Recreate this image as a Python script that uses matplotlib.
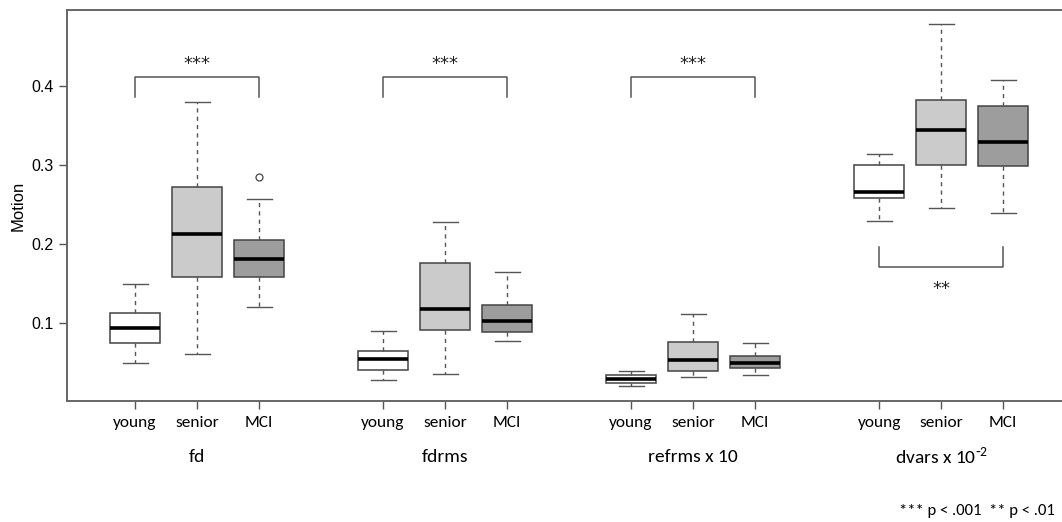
import matplotlib
matplotlib.use("Agg")
import matplotlib.pyplot as plt

# data (Motion, one box per group x metric)
metrics = ["fd", "fdrms", "refrms x 10", r"dvars x 10$^{\mathregular{\text{-}2}}$"]
groups = ["young", "senior", "MCI"]

whislo = [0.050, 0.061, 0.121, 0.028, 0.035, 0.078, 0.020, 0.032, 0.034, 0.230, 0.246, 0.240]
q1 = [0.075, 0.159, 0.159, 0.041, 0.091, 0.089, 0.024, 0.040, 0.043, 0.259, 0.300, 0.299]
med = [0.094, 0.213, 0.181, 0.054, 0.118, 0.103, 0.029, 0.053, 0.049, 0.266, 0.345, 0.329]
q3 = [0.113, 0.272, 0.205, 0.065, 0.176, 0.123, 0.034, 0.076, 0.059, 0.300, 0.383, 0.375]
whishi = [0.150, 0.380, 0.258, 0.090, 0.228, 0.165, 0.039, 0.112, 0.075, 0.315, 0.479, 0.408]
fliers = [[], [], [0.285], [], [], [], [], [], [], [], [], []]

# significance brackets: (metric index, label, above?)
sig = [(0, "***", True), (1, "***", True), (2, "***", True), (3, "**", False)]

colors = ["#ffffff", "#cbcbcb", "#9d9d9d"]
narrow = ["Carlito", "Liberation Sans Narrow", "DejaVu Sans"]


def main():
    plt.rcParams["font.family"] = ["Liberation Sans", "DejaVu Sans"]

    fig = plt.figure(figsize=(10.62, 5.22), dpi=100)
    ax = fig.add_axes([0.063, 0.232, 0.94, 0.749])

    positions = [g * 4 + i + 1 for g in range(len(metrics)) for i in range(len(groups))]
    stats = []
    for k in range(len(positions)):
        stats.append({
            "whislo": whislo[k], "q1": q1[k], "med": med[k],
            "q3": q3[k], "whishi": whishi[k], "fliers": fliers[k],
        })

    bp = ax.bxp(
        stats, positions=positions, widths=0.8, patch_artist=True,
        boxprops=dict(edgecolor="#444444", linewidth=1.1),
        medianprops=dict(color="black", linewidth=2.6, solid_capstyle="butt"),
        whiskerprops=dict(color="#555555", linewidth=1.0, linestyle=(0, (3, 3))),
        capprops=dict(color="#555555", linewidth=1.0),
        flierprops=dict(marker="o", markersize=5, markerfacecolor="white",
                        markeredgecolor="#444444", markeredgewidth=0.9),
        capwidths=0.4,
    )
    for k, patch in enumerate(bp["boxes"]):
        patch.set_facecolor(colors[k % 3])

    # brackets
    for g, label, above in sig:
        x0 = positions[g * 3]
        x1 = positions[g * 3 + 2]
        if above:
            ys = [0.387, 0.412, 0.412, 0.387]
            ty = 0.429
        else:
            ys = [0.197, 0.171, 0.171, 0.197]
            ty = 0.143
        ax.plot([x0, x0, x1, x1], ys, color="#555555", linewidth=1.1)
        ax.text((x0 + x1) / 2, ty, label, ha="center", va="center",
                fontsize=13, color="#222222", family="DejaVu Sans")

    ax.set_xlim(-0.1, 16.0)
    ax.set_ylim(0.0015, 0.497)
    ax.set_yticks([0.1, 0.2, 0.3, 0.4])
    ax.set_yticklabels(["0.1", "0.2", "0.3", "0.4"], fontsize=11.5)
    ax.set_xticks(positions)
    ax.set_xticklabels(groups * len(metrics), fontsize=12.5, family=narrow)
    ax.tick_params(axis="both", direction="out", length=6, width=1.0, color="#555555")
    ax.tick_params(axis="x", pad=5)
    ax.set_ylabel("Motion", fontsize=12)

    for side in ["left", "top", "bottom"]:
        ax.spines[side].set_color("#666666")
        ax.spines[side].set_linewidth(1.4)
    ax.spines["right"].set_visible(False)

    # metric names under each group
    for g, name in enumerate(metrics):
        xc = positions[g * 3 + 1]
        xf = ax.transData.transform((xc, 0))[0] / fig.bbox.width
        fig.text(xf, 1 - 457 / 522, name, ha="center", va="center",
                 fontsize=14, family=narrow)

    fig.text(1055 / 1062, 1 - 511 / 522, "*** p < .001  ** p < .01",
             ha="right", va="center", fontsize=12, family=narrow)

    fig.savefig("out.png", dpi=100)


if __name__ == "__main__":
    main()
